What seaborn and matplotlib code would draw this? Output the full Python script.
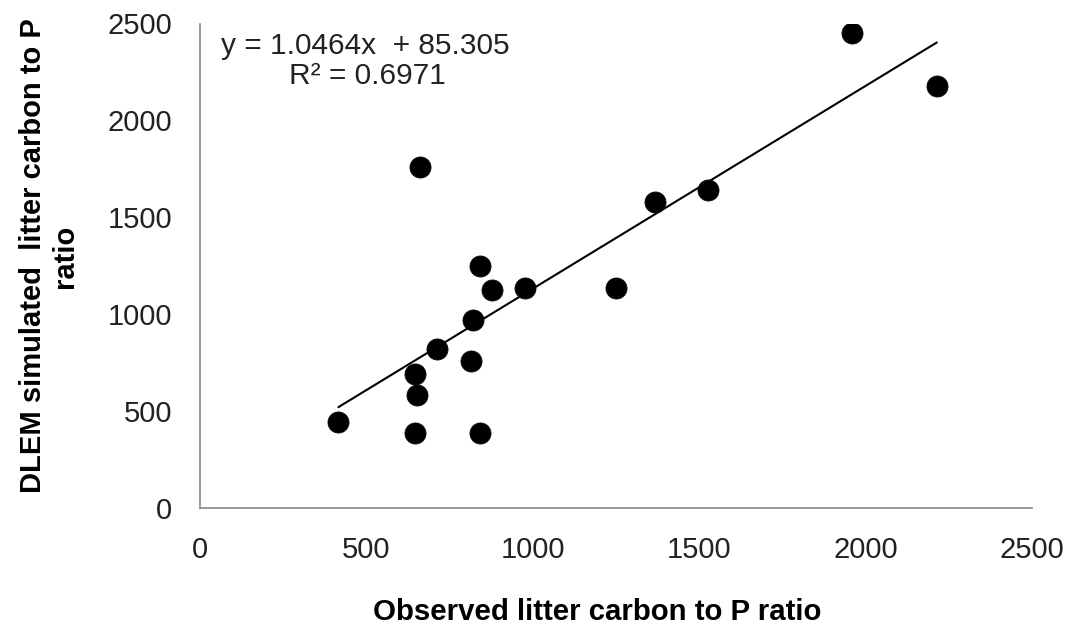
import numpy as np
import pandas as pd
import matplotlib
matplotlib.use("Agg")
import matplotlib.pyplot as plt
import seaborn as sns

# Observed vs simulated litter C:P ratios
observed = [416, 647, 651, 647, 713, 813, 819, 841, 841, 876, 976, 1249,
            1367, 1526, 661, 1958, 2214]
simulated = [445, 385, 583, 691, 819, 758, 970, 385, 1250, 1125, 1134, 1134,
             1580, 1641, 1760, 2453, 2178]

# Linear trend reported on the chart
slope = 1.0464
intercept = 85.305
r_squared = 0.6971

x_ticks = [0, 500, 1000, 1500, 2000, 2500]
y_ticks = [0, 500, 1000, 1500, 2000, 2500]

sns.set_theme(style="white")
plt.rcParams["font.family"] = ["Liberation Sans", "DejaVu Sans"]

df = pd.DataFrame({"observed": observed, "simulated": simulated})
fit_x = np.array([min(observed), max(observed)])
fit = pd.DataFrame({"x": fit_x, "y": slope * fit_x + intercept})

fig = plt.figure(figsize=(10.83, 6.34), dpi=100)
ax = fig.add_axes([200 / 1083, 1 - 508 / 634, 832 / 1083, 484.5 / 634])

sns.lineplot(data=fit, x="x", y="y", ax=ax, color="black", linewidth=1.5,
             zorder=2)
sns.scatterplot(data=df, x="observed", y="simulated", ax=ax, color="black",
                s=230, edgecolor="#0a0a1a", linewidth=0.6, zorder=3)

ax.set_xlim(0, 2500)
ax.set_ylim(0, 2500)
ax.set_xticks(x_ticks)
ax.set_yticks(y_ticks)
ax.tick_params(axis="both", which="both", direction="out", length=6,
               width=1.2, color="#888888", labelsize=21, labelcolor="#222222",
               pad=14)
for side in ["top", "right"]:
    ax.spines[side].set_visible(False)
for side in ["left", "bottom"]:
    ax.spines[side].set_color("#888888")
    ax.spines[side].set_linewidth(1.2)

ax.set_xlabel("Observed litter carbon to P ratio", fontsize=21.2,
              fontweight="bold", color="black")
ax.xaxis.set_label_coords(0.477, -0.186)
ax.set_ylabel("DLEM simulated  litter carbon to P\nratio", fontsize=21,
              fontweight="bold", color="black", linespacing=1.2)
ax.yaxis.set_label_coords(-0.145, 0.52)

ax.text(0.025, 0.953, f"y = {slope}x  + {intercept}", transform=ax.transAxes,
        fontsize=21.5, color="#222222", ha="left", va="center")
ax.text(0.107, 0.891, f"R² = {r_squared}", transform=ax.transAxes,
        fontsize=21.5, color="#222222", ha="left", va="center")

fig.savefig("out.png", dpi=100)
